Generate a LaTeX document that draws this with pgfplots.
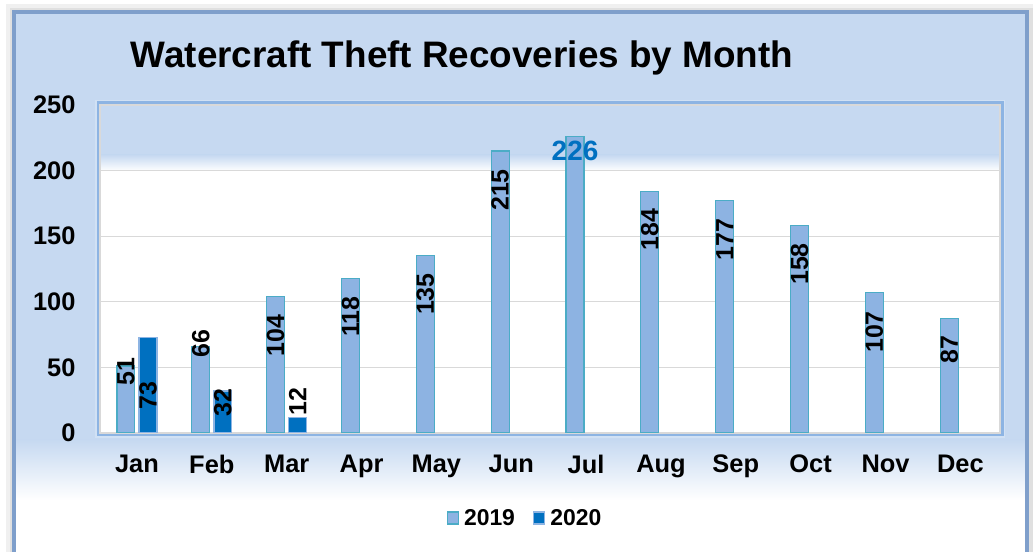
\documentclass[border=0pt]{standalone}
\usepackage{pgfplots}
\pgfplotsset{compat=1.18}
\usepackage{fontspec}
\setmainfont{Liberation Sans}

\definecolor{bgblue}{HTML}{C6D9F1}
\definecolor{frameblue}{HTML}{7F9FCB}
\definecolor{plotedge}{HTML}{8DB4E3}
\definecolor{bar19}{HTML}{8DB3E2}
\definecolor{edge19}{HTML}{4BACC6}
\definecolor{bar20}{HTML}{0070C0}
\definecolor{gridgray}{HTML}{D9D9D9}

\tikzset{lbl/.style={rotate=90, inner sep=0pt, font=\fontsize{25}{28}\selectfont\bfseries}}

\begin{document}
\begin{tikzpicture}[x=1bp,y=1bp]
  \useasboundingbox (0,0) rectangle (1033,552);
  \clip (0,0) rectangle (1033,552);
  % page and frame shadow
  \fill[white] (0,0) rectangle (1033,552);
  \fill[black!6] (6,-10) rectangle (1040,548);
  \fill[black!12] (10,-10) rectangle (1040,544);
  % outer panel
  \fill[bgblue] (14,-10) rectangle (1027,540);
  \fill[white] (14,-10) rectangle (1027,52);
  \shade[top color=bgblue, bottom color=white] (14,52) rectangle (1027,112);
  \draw[frameblue, line width=3.5] (14,-20) -- (14,540) -- (1027,540) -- (1027,-20);
  % plot area background
  \fill[white] (100,119) rectangle (1000,447);
  \fill[bgblue] (100,397) rectangle (1000,447);
  \shade[top color=bgblue, bottom color=white] (100,381) rectangle (1000,397);
  \draw[plotedge!40, line width=6] (97.5,116.5) rectangle (1002.5,449.5);
  \draw[plotedge, line width=3] (98,117) rectangle (1002,449);

  \node[anchor=base, inner sep=0pt, font=\fontsize{37}{42}\selectfont\bfseries] at (462,484) {Watercraft Theft Recoveries by Month};

  \begin{axis}[
      at={(100bp,119bp)}, anchor=south west,
      width=900bp, height=328bp, scale only axis,
      ybar, bar width=0.24,
      xmin=-0.494, xmax=11.53,
      ymin=0, ymax=250,
      xtick={0,...,11},
      xticklabels={Jan,Feb,Mar,Apr,May,Jun,Jul,Aug,Sep,Oct,Nov,Dec},
      ytick={0,50,100,150,200,250},
      ymajorgrids=true,
      grid style={gridgray, line width=1.2bp},
      axis line style={gridgray, line width=1.2bp},
      major tick style={draw=none},
      ticklabel style={font=\fontsize{25.5}{28}\selectfont\bfseries},
      /pgf/number format/assume math mode=true,
      yticklabel style={xshift=-21bp},
      xticklabel style={yshift=-14bp},
      legend style={at={(0.4722,-0.259)}, anchor=center, draw=none, fill=none,
        legend columns=2, font=\fontsize{23}{26}\selectfont\bfseries,
        /tikz/every odd column/.append style={column sep=3bp},
        /tikz/every even column/.append style={column sep=16bp}},
      legend image code/.code={\draw[#1, line width=1.5bp] (0bp,-6bp) rectangle (11bp,6bp);},
    ]
    \addplot[fill=bar19, draw=edge19, line width=1.2bp, bar shift=-0.148]
      coordinates {(0,51) (1,66) (2,104) (3,118) (4,135) (5,215)
                   (6,226) (7,184) (8,177) (9,158) (10,107) (11,87)};
    \addplot[fill=bar20, draw=plotedge, line width=1.2bp, bar shift=0.148]
      coordinates {(0,73) (1,32) (2,12)};
    \legend{2019,2020}

    % data labels, placed as in the reference
    \node[lbl] at (axis cs:-0.148,47) {51};
    \node[lbl] at (axis cs:0.852,67.9) {66};
    \node[lbl] at (axis cs:1.852,74.4) {104};
    \node[lbl] at (axis cs:2.852,88.6) {118};
    \node[lbl] at (axis cs:3.852,105.8) {135};
    \node[lbl] at (axis cs:4.852,185.2) {215};
    \node[inner sep=0pt, text=bar20, font=\fontsize{28}{31}\selectfont\bfseries] at (axis cs:5.852,215) {226};
    \node[lbl] at (axis cs:6.852,155) {184};
    \node[lbl] at (axis cs:7.852,147.4) {177};
    \node[lbl] at (axis cs:8.852,128.8) {158};
    \node[lbl] at (axis cs:9.852,77) {107};
    \node[lbl] at (axis cs:10.852,63.6) {87};
    \node[lbl] at (axis cs:0.148,28.4) {73};
    \node[lbl] at (axis cs:1.148,23) {32};
    \node[lbl] at (axis cs:2.148,24) {12};
  \end{axis}
\end{tikzpicture}
\end{document}
